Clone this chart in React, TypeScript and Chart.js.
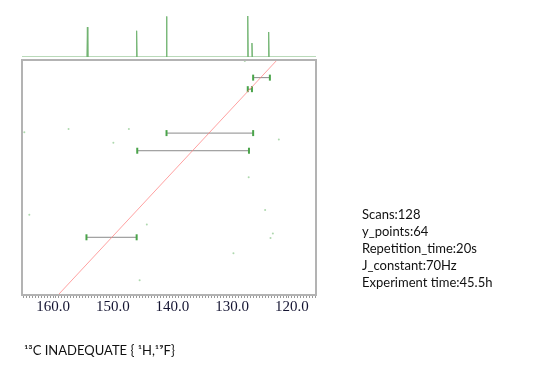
import React, { useEffect, useRef } from "react";
import { Chart, registerables } from "chart.js";
Chart.register(...registerables);

// X axis range (ppm, reversed)
const xMin = 115.98;
const xMax = 165.19;
// Y axis (double-quantum sum, ppm) range
const yTop = 245.0;
const yBottom = 318.3;

// 1D projection peaks
const peakPpm = [154.25, 146.0, 141.0, 127.4, 126.7, 123.9];
const peakHeight = [73, 64, 99, 100, 34, 61];

// INADEQUATE correlation pairs
const pairLeft = [126.5, 127.4, 141.0, 145.9, 154.4];
const pairRight = [123.7, 126.7, 126.5, 127.2, 146.0];
const pairSum = [250.5, 254.1, 267.8, 273.3, 300.3];

// noise specks
const noiseX = [164.8, 157.4, 147.3, 149.9, 122.2, 127.25, 127.9, 163.97, 144.3, 124.5, 123.2, 123.6, 129.8, 145.5];
const noiseY = [267.5, 266.5, 266.5, 270.8, 269.8, 281.6, 245.3, 293.3, 296.3, 291.8, 299.1, 300.5, 305.3, 313.7];

// diagonal (y = 2x)
const diagX = [160, 120];

const infoLines = ["Scans:128", "y_points:64", "Repetition_time:20s", "J_constant:70Hz", "Experiment time:45.5h"];

const frame = {
  id: "frame",
  afterDatasetsDraw(chart: any) {
    const { ctx, chartArea } = chart;
    ctx.save();
    ctx.strokeStyle = "#b3b3b3";
    ctx.lineWidth = 2;
    ctx.strokeRect(chartArea.left, chartArea.top, chartArea.right - chartArea.left, chartArea.bottom - chartArea.top);
    ctx.restore();
  },
};

export default function App() {
  const topRef = useRef<HTMLCanvasElement>(null);
  const mainRef = useRef<HTMLCanvasElement>(null);

  useEffect(() => {
    const specData: { x: number; y: number }[] = [{ x: xMax, y: 0 }];
    peakPpm.forEach((p, i) => {
      specData.push({ x: p + 0.08, y: 0 });
      specData.push({ x: p, y: peakHeight[i] });
      specData.push({ x: p - 0.08, y: 0 });
    });
    specData.push({ x: xMin, y: 0 });

    const topChart = new Chart(topRef.current!, {
      type: "line",
      data: {
        datasets: [
          {
            data: specData,
            borderColor: "#72b472",
            borderWidth: 1,
            pointRadius: 0,
            tension: 0,
          },
        ],
      },
      options: {
        animation: false,
        responsive: false,
        layout: { padding: { left: 22, right: 231, top: 16, bottom: 3 } },
        plugins: { legend: { display: false }, tooltip: { enabled: false } },
        scales: {
          x: { type: "linear", min: xMin, max: xMax, reverse: true, display: false },
          y: { min: 0, max: 100, display: false },
        },
      },
    });

    const datasets: any[] = [];
    datasets.push({
      data: diagX.map((x) => ({ x, y: 2 * x })),
      borderColor: "rgba(255,130,130,0.75)",
      borderWidth: 1,
      pointRadius: 0,
    });
    pairSum.forEach((s, i) => {
      datasets.push({
        data: [
          { x: pairLeft[i], y: s },
          { x: pairRight[i], y: s },
        ],
        borderColor: "#8a8a8a",
        borderWidth: 1,
        pointStyle: "line",
        rotation: 90,
        pointRadius: 3,
        pointBorderColor: "#4aa44a",
        pointBorderWidth: 2,
      });
    });
    datasets.push({
      type: "scatter",
      data: noiseX.map((x, i) => ({ x, y: noiseY[i] })),
      pointRadius: 1,
      pointBorderWidth: 0,
      pointBackgroundColor: "rgba(120,190,120,0.6)",
      showLine: false,
    });

    const mainChart = new Chart(mainRef.current!, {
      type: "line",
      data: { datasets },
      options: {
        animation: false,
        responsive: false,
        layout: { padding: { left: 22, right: 231, top: 60, bottom: 50 } },
        plugins: { legend: { display: false }, tooltip: { enabled: false } },
        scales: {
          x: {
            type: "linear",
            min: xMin,
            max: xMax,
            reverse: true,
            afterFit: (scale: any) => {
              scale.height = 30;
            },
            afterBuildTicks: (scale: any) => {
              const t: any[] = [];
              for (let v = 116; v <= 165; v += 0.5) t.push({ value: v });
              scale.ticks = t;
            },
            border: { display: false },
            grid: { drawOnChartArea: false, tickLength: 3, color: "#999999", lineWidth: 1 },
            ticks: {
              autoSkip: false,
              maxRotation: 0,
              padding: 0,
              color: "#141432",
              font: { family: "Liberation Serif, Times New Roman, serif", size: 15 },
              callback: (v: any) => (Math.abs(v % 10) < 1e-6 ? Number(v).toFixed(1) : ""),
            },
          },
          y: { min: yTop, max: yBottom, reverse: true, display: false },
        },
      },
      plugins: [frame],
    });

    return () => {
      topChart.destroy();
      mainChart.destroy();
    };
  }, []);

  return (
    <div style={{ position: "fixed", left: 0, top: 0, width: 547, height: 375, background: "#fff" }}>
      <canvas ref={mainRef} width={547} height={375} style={{ position: "absolute", left: 0, top: 0 }} />
      <canvas ref={topRef} width={547} height={60} style={{ position: "absolute", left: 0, top: 0 }} />
      <div
        style={{
          position: "absolute",
          left: 362,
          top: 206,
          fontFamily: "Lato, 'Open Sans', sans-serif",
          fontSize: 13,
          lineHeight: "17px",
          color: "#111",
          whiteSpace: "nowrap",
        }}
      >
        {infoLines.map((l) => (
          <div key={l}>{l}</div>
        ))}
      </div>
      <div
        style={{
          position: "absolute",
          left: 24,
          top: 342,
          fontFamily: "Lato, 'Open Sans', sans-serif",
          fontSize: 13,
          lineHeight: "17px",
          color: "#111",
          whiteSpace: "nowrap",
        }}
      >
        ¹³C INADEQUATE { "{" } ¹H,¹⁹F{ "}" }
      </div>
    </div>
  );
}
